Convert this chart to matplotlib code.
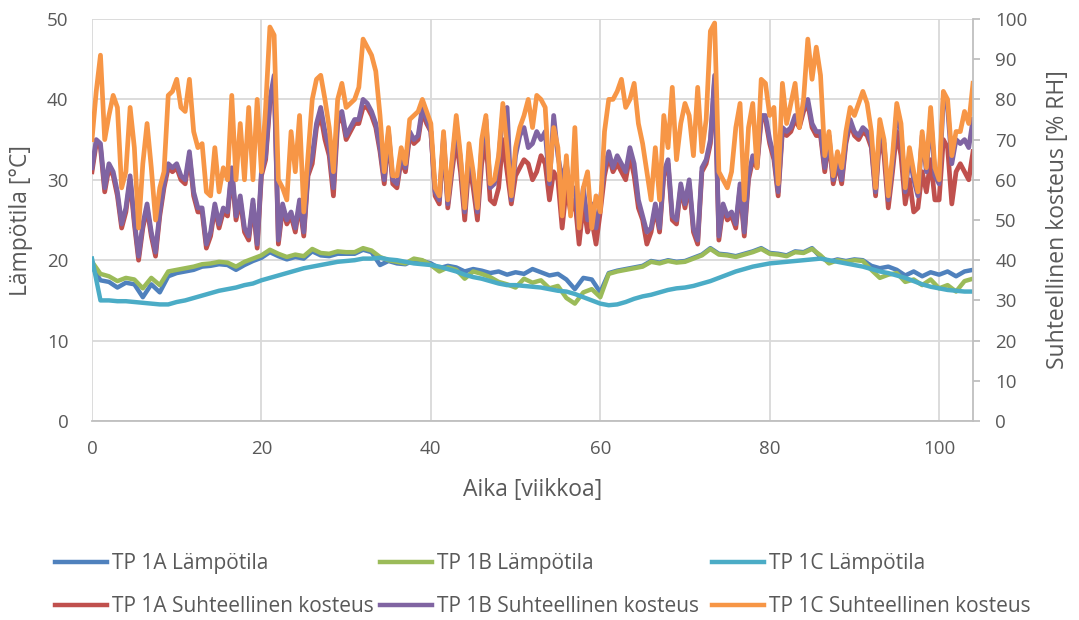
import numpy as np
import matplotlib
matplotlib.use("Agg")
import matplotlib.pyplot as plt

# ---------------- data ----------------
# relative humidity, sampled every 0.5 week (week 0 ... 104)
rh_1c = [
    70, 82, 91, 70, 76, 81, 78, 58, 62, 78,
    68, 48, 64, 74, 63, 50, 58, 62, 81, 82,
    85, 78, 77, 85, 72, 68, 69, 57, 56, 68,
    57, 63, 60, 81, 60, 74, 60, 78, 60, 80,
    62, 78, 98, 96, 60, 58, 55, 72, 62, 76,
    52, 66, 80, 85, 86, 80, 73, 62, 80, 84,
    78, 79, 80, 83, 95, 93, 91, 87, 76, 62,
    73, 61, 61, 68, 64, 75, 76, 77, 80, 77,
    74, 58, 56, 72, 55, 65, 76, 66, 53, 69,
    62, 53, 70, 76, 59, 60, 66, 79, 68, 56,
    68, 73, 76, 80, 73, 81, 80, 78, 60, 73,
    68, 51, 66, 51, 73, 48, 58, 62, 48, 56,
    52, 72, 80, 80, 82, 85, 78, 80, 84, 74,
    69, 62, 55, 68, 55, 76, 68, 83, 65, 74,
    79, 76, 66, 83, 67, 75, 97, 99, 62, 60,
    58, 62, 73, 79, 55, 73, 79, 63, 85, 84,
    76, 78, 59, 84, 74, 79, 84, 73, 80, 95,
    85, 93, 86, 66, 72, 61, 67, 63, 72, 78,
    76, 79, 82, 79, 72, 58, 75, 70, 56, 66,
    79, 74, 58, 68, 62, 57, 72, 63, 78, 63,
    60, 82, 80, 66, 72, 72, 77, 74, 84,
]
rh_1b = [
    63, 70, 69, 58, 64, 62, 57, 49, 53, 61,
    50, 41, 49, 54, 47, 42, 52, 59, 64, 63,
    64, 61, 60, 67, 57, 53, 53, 44, 47, 54,
    49, 53, 52, 63, 51, 56, 48, 46, 55, 44,
    62, 66, 80, 86, 45, 54, 50, 52, 48, 55,
    47, 62, 66, 74, 78, 72, 68, 58, 76, 77,
    71, 73, 75, 75, 80, 79, 77, 74, 68, 60,
    72, 60, 59, 66, 63, 72, 70, 71, 78, 75,
    72, 57, 55, 71, 54, 64, 74, 65, 52, 67,
    61, 52, 68, 75, 58, 59, 65, 77, 78, 55,
    66, 71, 73, 68, 69, 72, 70, 72, 59, 76,
    66, 60, 64, 56, 58, 48, 58, 50, 54, 48,
    55, 63, 67, 63, 66, 64, 62, 68, 64, 55,
    51, 47, 48, 54, 48, 62, 65, 51, 50, 59,
    54, 60, 48, 45, 63, 65, 70, 86, 46, 54,
    51, 52, 49, 59, 47, 61, 66, 64, 76, 76,
    70, 66, 57, 73, 72, 73, 76, 74, 78, 80,
    74, 72, 72, 63, 71, 60, 65, 60, 70, 75,
    72, 71, 73, 72, 69, 57, 73, 69, 55, 64,
    77, 72, 57, 66, 60, 56, 71, 62, 76, 61,
    59, 80, 78, 64, 70, 69, 70, 68, 75,
]
rh_1a = [
    62, 69, 68, 57, 63, 61, 56, 48, 52, 60,
    49, 40, 48, 53, 46, 41, 51, 58, 63, 62,
    63, 60, 59, 66, 56, 52, 52, 43, 46, 53,
    48, 52, 51, 62, 50, 55, 47, 45, 54, 43,
    61, 65, 79, 85, 44, 53, 49, 51, 47, 54,
    46, 61, 64, 73, 76, 70, 66, 56, 74, 76,
    70, 72, 74, 74, 78, 78, 76, 73, 67, 59,
    71, 59, 58, 65, 62, 71, 69, 70, 77, 74,
    72, 56, 54, 70, 53, 62, 70, 62, 50, 64,
    58, 50, 64, 70, 55, 54, 58, 70, 62, 54,
    61, 63, 65, 64, 60, 62, 66, 64, 55, 62,
    60, 48, 58, 52, 55, 44, 54, 47, 50, 44,
    52, 61, 66, 62, 64, 62, 60, 66, 61, 53,
    50, 44, 47, 53, 47, 61, 64, 50, 49, 58,
    53, 59, 47, 44, 62, 64, 69, 85, 45, 53,
    50, 51, 48, 58, 46, 60, 65, 63, 75, 75,
    69, 65, 56, 72, 71, 72, 75, 73, 77, 79,
    73, 71, 71, 62, 70, 59, 64, 59, 69, 74,
    71, 70, 72, 71, 68, 56, 71, 66, 53, 62,
    72, 66, 54, 60, 52, 53, 62, 57, 65, 55,
    55, 70, 68, 54, 62, 64, 62, 60, 67,
]

# temperatures, sampled every week (week 0 ... 104)
t_1a = [
    19.2, 17.5, 17.3, 16.6, 17.2, 17.0, 15.4, 17.0, 16.0, 18.0,
    18.4, 18.6, 18.8, 19.2, 19.3, 19.5, 19.4, 18.8, 19.4, 19.9,
    20.3, 21.0, 20.5, 20.1, 20.4, 20.2, 21.1, 20.6, 20.5, 20.8,
    20.8, 20.8, 21.3, 21.0, 19.4, 19.9, 19.6, 19.5, 20.0, 19.9,
    19.6, 19.0, 19.3, 19.1, 18.6, 18.9, 18.7, 18.4, 18.6, 18.2,
    18.5, 18.3, 18.9, 18.5, 18.1, 18.3, 17.6, 16.4, 17.8, 17.6,
    16.0, 18.4, 18.7, 18.9, 19.1, 19.3, 19.9, 19.7, 20.0, 19.8,
    19.9, 20.3, 20.7, 21.5, 20.8, 20.7, 20.5, 20.8, 21.1, 21.5,
    20.9, 20.8, 20.6, 21.1, 21.0, 21.5, 20.4, 19.8, 20.1, 19.9,
    20.1, 20.0, 19.3, 19.0, 19.2, 18.8, 18.1, 18.6, 18.0, 18.5,
    18.2, 18.6, 18.0, 18.6, 18.8,
]
t_1b = [
    19.8, 18.3, 18.0, 17.4, 17.8, 17.6, 16.5, 17.8, 16.9, 18.6,
    18.8, 19.0, 19.2, 19.5, 19.6, 19.8, 19.7, 19.2, 19.8, 20.2,
    20.6, 21.3, 20.8, 20.4, 20.7, 20.5, 21.4, 20.9, 20.8, 21.1,
    21.0, 21.0, 21.5, 21.2, 20.4, 20.0, 19.8, 19.6, 20.2, 20.0,
    19.4, 18.6, 19.1, 18.8, 17.7, 18.6, 18.3, 17.9, 17.3, 17.0,
    16.6, 17.7, 17.2, 17.5, 16.5, 16.8, 15.3, 14.6, 16.0, 16.4,
    15.4, 18.3, 18.6, 18.8, 19.0, 19.2, 19.8, 19.6, 19.9, 19.7,
    19.8, 20.2, 20.6, 21.4, 20.7, 20.6, 20.4, 20.7, 21.0, 21.4,
    20.8, 20.7, 20.5, 21.0, 20.9, 21.4, 20.6, 19.6, 20.0, 19.8,
    20.0, 19.9, 18.8, 17.8, 18.2, 18.4, 17.3, 17.6, 16.9, 17.6,
    16.5, 16.9, 16.1, 17.4, 17.7,
]
t_1c = [
    20.2, 15.0, 15.0, 14.9, 14.9, 14.8, 14.7, 14.6, 14.5, 14.5,
    14.8, 15.0, 15.3, 15.6, 15.9, 16.2, 16.4, 16.6, 16.9, 17.1,
    17.5, 17.8, 18.1, 18.4, 18.7, 19.0, 19.2, 19.4, 19.6, 19.8,
    19.9, 20.0, 20.2, 20.2, 20.3, 20.1, 20.0, 19.8, 19.6, 19.5,
    19.4, 19.2, 18.9, 18.6, 18.2, 17.9, 17.7, 17.4, 17.1, 16.9,
    16.9, 16.8, 16.7, 16.6, 16.4, 16.2, 16.1, 15.8, 15.4, 15.0,
    14.6, 14.4, 14.5, 14.8, 15.2, 15.5, 15.7, 16.0, 16.3, 16.5,
    16.6, 16.8, 17.1, 17.4, 17.8, 18.2, 18.6, 18.9, 19.2, 19.4,
    19.6, 19.7, 19.8, 19.9, 20.0, 20.1, 20.2, 20.0, 19.8, 19.6,
    19.4, 19.2, 18.9, 18.6, 18.4, 18.1, 17.8, 17.4, 17.0, 16.7,
    16.5, 16.3, 16.2, 16.1, 16.1,
]

labels = ["TP 1A Lämpötila", "TP 1B Lämpötila", "TP 1C Lämpötila",
          "TP 1A Suhteellinen kosteus", "TP 1B Suhteellinen kosteus",
          "TP 1C Suhteellinen kosteus"]
x_ticks = [0, 20, 40, 60, 80, 100]
t_ticks = [0, 10, 20, 30, 40, 50]
rh_ticks = [0, 10, 20, 30, 40, 50, 60, 70, 80, 90, 100]

weeks_rh = np.arange(len(rh_1c)) * 0.5
weeks_t = np.arange(len(t_1c)) * 1.0

# ---------------- style ----------------
plt.rcParams["font.family"] = ["Open Sans", "DejaVu Sans"]
txt = "#595959"
grid_c = "#d9d9d9"
axis_c = "#bfbfbf"
cols = ["#4F81BD", "#9BBB59", "#4BACC6", "#C0504D", "#8064A2", "#F79646"]
lw_t = 3.2
lw_rh = 3.4

fig = plt.figure(figsize=(10.79, 6.20), dpi=100)
ax = fig.add_axes([92 / 1079, 1 - 421 / 620, (973 - 92) / 1079, (421 - 19) / 620])
ax2 = ax.twinx()

h = []
h += ax.plot(weeks_t, t_1a, color=cols[0], lw=lw_t, solid_joinstyle="round")
h += ax.plot(weeks_t, t_1b, color=cols[1], lw=lw_t, solid_joinstyle="round")
h += ax.plot(weeks_t, t_1c, color=cols[2], lw=lw_t, solid_joinstyle="round")
h += ax2.plot(weeks_rh, rh_1a, color=cols[3], lw=lw_rh, solid_joinstyle="round")
h += ax2.plot(weeks_rh, rh_1b, color=cols[4], lw=lw_rh, solid_joinstyle="round")
h += ax2.plot(weeks_rh, rh_1c, color=cols[5], lw=lw_rh, solid_joinstyle="round")

ax.set_xlim(0, 104)
ax.set_ylim(0, 50)
ax2.set_ylim(0, 100)
ax.set_xticks(x_ticks)
ax.set_yticks(t_ticks)
ax2.set_yticks(rh_ticks)

ax.set_axisbelow(True)
ax.grid(True, color=grid_c, lw=1.3)

for s in ["top", "left", "right"]:
    ax.spines[s].set_visible(False)
for s in ["top", "left", "bottom"]:
    ax2.spines[s].set_visible(False)
ax.spines["bottom"].set_color(axis_c)
ax.spines["bottom"].set_linewidth(1.3)
ax2.spines["right"].set_color(axis_c)
ax2.spines["right"].set_linewidth(1.3)

tick_fs = 13.5
ax.tick_params(axis="both", length=0, labelsize=tick_fs, labelcolor=txt)
ax.tick_params(axis="x", pad=14)
ax.tick_params(axis="y", pad=17)
ax2.tick_params(axis="y", length=5, width=1.3, color=axis_c, direction="out",
                labelsize=tick_fs, labelcolor=txt, pad=11)

lab_fs = 16.5
ax.set_xlabel("Aika [viikkoa]", fontsize=lab_fs, color=txt, labelpad=14)
ax.set_ylabel("Lämpötila [°C]", fontsize=lab_fs, color=txt, labelpad=10)
ax2.set_ylabel("Suhteellinen kosteus [% RH]", fontsize=lab_fs, color=txt, labelpad=13)

# legend: three columns, each with a temperature entry above an RH entry
leg_fs = 15
col_x = [55, 380, 712]
for j in range(3):
    leg = fig.legend([h[j], h[j + 3]], [labels[j], labels[j + 3]],
                     loc="upper left", bbox_to_anchor=(col_x[j] / 1079, 1 - 553 / 620),
                     frameon=False, fontsize=leg_fs, labelcolor=txt,
                     handlelength=2.5, handletextpad=0.25,
                     labelspacing=1.05, borderpad=0, borderaxespad=0)
    for l in leg.get_lines():
        l.set_linewidth(3.2)

fig.savefig("out.png", dpi=100)
